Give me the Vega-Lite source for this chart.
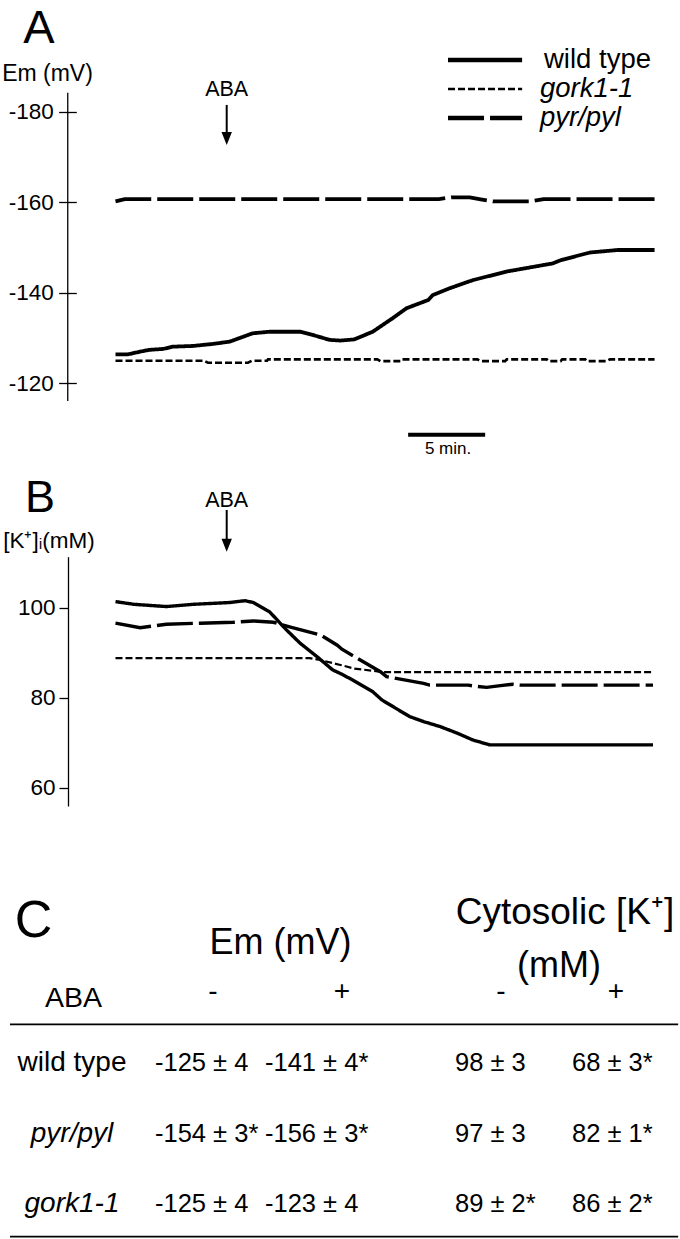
{
  "$schema": "https://vega.github.io/schema/vega-lite/v6.json",
  "width": 612,
  "height": 1239,
  "autosize": {"type": "none"},
  "padding": {"left": 68, "top": 0, "right": 0, "bottom": 0},
  "background": "white",
  "config": {
    "view": {"stroke": null},
    "font": "Liberation Sans",
    "axis": {"labelColor": "black", "titleColor": "black", "tickColor": "black", "domainColor": "black", "grid": false, "labelFont": "Liberation Sans", "titleFont": "Liberation Sans", "titleFontWeight": "normal"}
  },
  "datasets": {
    "emTrace": [
      {"genotype": "wild type", "t": 0, "em": -126.4},
      {"genotype": "wild type", "t": 0.8, "em": -126.4},
      {"genotype": "wild type", "t": 1.6, "em": -127.0},
      {"genotype": "wild type", "t": 2.2, "em": -127.4},
      {"genotype": "wild type", "t": 3.1, "em": -127.6},
      {"genotype": "wild type", "t": 3.7, "em": -128.1},
      {"genotype": "wild type", "t": 5.0, "em": -128.25},
      {"genotype": "wild type", "t": 6.3, "em": -128.7},
      {"genotype": "wild type", "t": 7.4, "em": -129.2},
      {"genotype": "wild type", "t": 8.3, "em": -130.3},
      {"genotype": "wild type", "t": 8.9, "em": -131.05},
      {"genotype": "wild type", "t": 10.0, "em": -131.4},
      {"genotype": "wild type", "t": 12.0, "em": -131.4},
      {"genotype": "wild type", "t": 12.8, "em": -130.7},
      {"genotype": "wild type", "t": 13.9, "em": -129.6},
      {"genotype": "wild type", "t": 14.6, "em": -129.45},
      {"genotype": "wild type", "t": 15.5, "em": -129.7},
      {"genotype": "wild type", "t": 16.7, "em": -131.4},
      {"genotype": "wild type", "t": 18.0, "em": -134.4},
      {"genotype": "wild type", "t": 18.9, "em": -136.6},
      {"genotype": "wild type", "t": 20.3, "em": -138.4},
      {"genotype": "wild type", "t": 20.6, "em": -139.5},
      {"genotype": "wild type", "t": 21.7, "em": -141.0},
      {"genotype": "wild type", "t": 23.2, "em": -142.8},
      {"genotype": "wild type", "t": 25.4, "em": -144.7},
      {"genotype": "wild type", "t": 28.4, "em": -146.5},
      {"genotype": "wild type", "t": 28.9, "em": -147.2},
      {"genotype": "wild type", "t": 30.8, "em": -148.9},
      {"genotype": "wild type", "t": 32.6, "em": -149.45},
      {"genotype": "wild type", "t": 35.0, "em": -149.45},
      {"genotype": "gork1-1", "t": 0, "em": -125.0},
      {"genotype": "gork1-1", "t": 5.75, "em": -125.0},
      {"genotype": "gork1-1", "t": 6.0, "em": -124.56},
      {"genotype": "gork1-1", "t": 8.6, "em": -124.56},
      {"genotype": "gork1-1", "t": 8.86, "em": -125.0},
      {"genotype": "gork1-1", "t": 9.84, "em": -125.0},
      {"genotype": "gork1-1", "t": 9.9, "em": -125.3},
      {"genotype": "gork1-1", "t": 17.0, "em": -125.3},
      {"genotype": "gork1-1", "t": 17.2, "em": -124.9},
      {"genotype": "gork1-1", "t": 18.5, "em": -124.9},
      {"genotype": "gork1-1", "t": 18.6, "em": -125.3},
      {"genotype": "gork1-1", "t": 23.5, "em": -125.3},
      {"genotype": "gork1-1", "t": 23.7, "em": -124.9},
      {"genotype": "gork1-1", "t": 25.3, "em": -124.9},
      {"genotype": "gork1-1", "t": 25.4, "em": -125.3},
      {"genotype": "gork1-1", "t": 28.0, "em": -125.3},
      {"genotype": "gork1-1", "t": 28.1, "em": -124.9},
      {"genotype": "gork1-1", "t": 28.9, "em": -124.9},
      {"genotype": "gork1-1", "t": 29.0, "em": -125.3},
      {"genotype": "gork1-1", "t": 30.5, "em": -125.3},
      {"genotype": "gork1-1", "t": 30.6, "em": -124.9},
      {"genotype": "gork1-1", "t": 31.9, "em": -124.9},
      {"genotype": "gork1-1", "t": 32.1, "em": -125.3},
      {"genotype": "gork1-1", "t": 35.0, "em": -125.3},
      {"genotype": "pyr/pyl", "t": 0, "em": -160.2},
      {"genotype": "pyr/pyl", "t": 0.6, "em": -160.7},
      {"genotype": "pyr/pyl", "t": 21.0, "em": -160.7},
      {"genotype": "pyr/pyl", "t": 21.8, "em": -161.1},
      {"genotype": "pyr/pyl", "t": 23.0, "em": -161.1},
      {"genotype": "pyr/pyl", "t": 23.8, "em": -160.6},
      {"genotype": "pyr/pyl", "t": 24.5, "em": -160.2},
      {"genotype": "pyr/pyl", "t": 27.0, "em": -160.2},
      {"genotype": "pyr/pyl", "t": 27.8, "em": -160.7},
      {"genotype": "pyr/pyl", "t": 35.0, "em": -160.7}
    ],
    "kTrace": [
      {"genotype": "wild type", "t": 0, "k": 101.4},
      {"genotype": "wild type", "t": 1.2, "k": 100.8},
      {"genotype": "wild type", "t": 3.3, "k": 100.3},
      {"genotype": "wild type", "t": 5.05, "k": 100.8},
      {"genotype": "wild type", "t": 7.4, "k": 101.2},
      {"genotype": "wild type", "t": 8.4, "k": 101.6},
      {"genotype": "wild type", "t": 8.95, "k": 101.2},
      {"genotype": "wild type", "t": 10.0, "k": 99.15},
      {"genotype": "wild type", "t": 11.1, "k": 95.1},
      {"genotype": "wild type", "t": 12.0, "k": 92.1},
      {"genotype": "wild type", "t": 13.1, "k": 89.1},
      {"genotype": "wild type", "t": 14.1, "k": 86.2},
      {"genotype": "wild type", "t": 14.6, "k": 85.4},
      {"genotype": "wild type", "t": 15.4, "k": 83.95},
      {"genotype": "wild type", "t": 16.7, "k": 81.35},
      {"genotype": "wild type", "t": 17.3, "k": 79.5},
      {"genotype": "wild type", "t": 19.1, "k": 75.8},
      {"genotype": "wild type", "t": 20.0, "k": 74.7},
      {"genotype": "wild type", "t": 21.1, "k": 73.55},
      {"genotype": "wild type", "t": 22.2, "k": 72.1},
      {"genotype": "wild type", "t": 23.2, "k": 70.6},
      {"genotype": "wild type", "t": 24.3, "k": 69.5},
      {"genotype": "wild type", "t": 34.9, "k": 69.5},
      {"genotype": "pyr/pyl", "t": 0, "k": 96.6},
      {"genotype": "pyr/pyl", "t": 1.6, "k": 95.6},
      {"genotype": "pyr/pyl", "t": 3.3, "k": 96.35},
      {"genotype": "pyr/pyl", "t": 5.5, "k": 96.6},
      {"genotype": "pyr/pyl", "t": 7.65, "k": 96.8},
      {"genotype": "pyr/pyl", "t": 8.95, "k": 97.1},
      {"genotype": "pyr/pyl", "t": 10.25, "k": 96.8},
      {"genotype": "pyr/pyl", "t": 11.3, "k": 95.8},
      {"genotype": "pyr/pyl", "t": 13.3, "k": 94.0},
      {"genotype": "pyr/pyl", "t": 14.4, "k": 91.7},
      {"genotype": "pyr/pyl", "t": 14.7, "k": 90.8},
      {"genotype": "pyr/pyl", "t": 17.2, "k": 85.8},
      {"genotype": "pyr/pyl", "t": 17.6, "k": 84.7},
      {"genotype": "pyr/pyl", "t": 20.0, "k": 83.2},
      {"genotype": "pyr/pyl", "t": 20.4, "k": 82.8},
      {"genotype": "pyr/pyl", "t": 22.9, "k": 82.8},
      {"genotype": "pyr/pyl", "t": 23.5, "k": 82.5},
      {"genotype": "pyr/pyl", "t": 24.1, "k": 82.3},
      {"genotype": "pyr/pyl", "t": 25.0, "k": 82.7},
      {"genotype": "pyr/pyl", "t": 25.8, "k": 83.0},
      {"genotype": "pyr/pyl", "t": 26.3, "k": 82.8},
      {"genotype": "pyr/pyl", "t": 34.9, "k": 82.8},
      {"genotype": "gork1-1", "t": 0, "k": 88.8},
      {"genotype": "gork1-1", "t": 12.6, "k": 88.8},
      {"genotype": "gork1-1", "t": 13.3, "k": 88.4},
      {"genotype": "gork1-1", "t": 14.6, "k": 87.3},
      {"genotype": "gork1-1", "t": 15.5, "k": 86.5},
      {"genotype": "gork1-1", "t": 17.4, "k": 85.7},
      {"genotype": "gork1-1", "t": 34.9, "k": 85.7}
    ],
    "table": [
      {"genotype": "wild type", "measure": "Em", "aba": "-", "value": "-125 ± 4"},
      {"genotype": "wild type", "measure": "Em", "aba": "+", "value": "-141 ± 4*"},
      {"genotype": "wild type", "measure": "K", "aba": "-", "value": "98 ± 3"},
      {"genotype": "wild type", "measure": "K", "aba": "+", "value": "68 ± 3*"},
      {"genotype": "pyr/pyl", "measure": "Em", "aba": "-", "value": "-154 ± 3*"},
      {"genotype": "pyr/pyl", "measure": "Em", "aba": "+", "value": "-156 ± 3*"},
      {"genotype": "pyr/pyl", "measure": "K", "aba": "-", "value": "97 ± 3"},
      {"genotype": "pyr/pyl", "measure": "K", "aba": "+", "value": "82 ± 1*"},
      {"genotype": "gork1-1", "measure": "Em", "aba": "-", "value": "-125 ± 4"},
      {"genotype": "gork1-1", "measure": "Em", "aba": "+", "value": "-123 ± 4"},
      {"genotype": "gork1-1", "measure": "K", "aba": "-", "value": "89 ± 2*"},
      {"genotype": "gork1-1", "measure": "K", "aba": "+", "value": "86 ± 2*"}
    ]
  },
  "resolve": {"scale": {"x": "independent", "y": "independent"}, "axis": {"x": "independent", "y": "independent"}},
  "layer": [
    {
      "data": {"name": "emTrace"},
      "mark": {"type": "line", "color": "black"},
      "encoding": {
        "x": {"field": "t", "type": "quantitative", "scale": {"domain": [-3.084, 36.651], "nice": false, "zero": false}, "axis": null},
        "y": {"field": "em", "type": "quantitative", "scale": {"domain": [-184.2, -116.1], "range": [92.7, 401], "nice": false, "zero": false},
          "axis": {"orient": "left", "offset": -8.3, "domain": false, "tickSize": 17.7, "tickWidth": 1.3, "values": [-180, -160, -140, -120], "labelFontSize": 22.5, "labelPadding": 5.3, "labelExpr": "replace(datum.label, '\u2212', '-')", "labelOverlap": false, "title": "Em (mV)", "titleAngle": 0, "titleX": -29.3, "titleY": 73, "titleAlign": "center", "titleBaseline": "middle", "titleFontSize": 23}},
        "strokeDash": {"field": "genotype", "type": "nominal", "scale": {"domain": ["wild type", "gork1-1", "pyr/pyl"], "range": [[1, 0], [7, 3], [36, 6]]}, "legend": null},
        "strokeWidth": {"condition": {"test": "datum.genotype === 'gork1-1'", "value": 2.6}, "value": 3.8}
      }
    },
    {
      "data": {"name": "kTrace"},
      "mark": {"type": "line", "color": "black"},
      "encoding": {
        "x": {"field": "t", "type": "quantitative", "scale": {"domain": [-3.084, 36.651], "nice": false, "zero": false}, "axis": null},
        "y": {"field": "k", "type": "quantitative", "scale": {"domain": [55.9, 111.4], "range": [806, 556.7], "nice": false, "zero": false},
          "axis": {"orient": "left", "offset": 0, "domain": true, "domainWidth": 1.3, "tickSize": 9, "tickWidth": 1.3, "values": [60, 80, 100], "labelFontSize": 22.5, "labelPadding": 4, "labelOverlap": false, "title": "[K⁺]ᵢ(mM)", "titleAngle": 0, "titleX": -19.5, "titleY": 540, "titleAlign": "center", "titleBaseline": "middle", "titleFontSize": 22.5}},
        "strokeDash": {"field": "genotype", "type": "nominal", "scale": {"domain": ["wild type", "gork1-1", "pyr/pyl"], "range": [[1, 0], [7, 3], [36, 6]]}, "legend": null},
        "strokeWidth": {"condition": {"test": "datum.genotype === 'gork1-1'", "value": 2.2}, "value": 3.4}
      }
    },
    {
      "data": {"values": [{}]},
      "encoding": {
        "x": {"datum": 7.22, "type": "quantitative", "scale": {"domain": [-3.084, 36.651], "nice": false, "zero": false}, "axis": null}
      },
      "layer": [
        {
          "mark": {"type": "rule", "color": "black", "strokeWidth": 1.3},
          "encoding": {
            "x": {"datum": -3.1, "type": "quantitative", "axis": null},
            "y": {"datum": -184.2, "type": "quantitative", "scale": {"domain": [-184.2, -116.1], "range": [92.7, 401], "nice": false, "zero": false}, "axis": null},
            "y2": {"datum": -116.1}
          }
        },
        {
          "mark": {"type": "rule", "color": "black", "strokeWidth": 2},
          "encoding": {
            "y": {"datum": -181.5, "type": "quantitative", "axis": null},
            "y2": {"datum": -175.3}
          }
        },
        {
          "mark": {"type": "point", "shape": "M-0.4,-1L0.4,-1L0,0Z", "size": 676, "filled": true, "color": "black", "opacity": 1, "strokeWidth": 0},
          "encoding": {
            "y": {"datum": -172.65, "type": "quantitative", "axis": null}
          }
        },
        {
          "mark": {"type": "text", "text": "ABA", "fontSize": 21.5, "align": "center", "baseline": "middle"},
          "encoding": {
            "y": {"datum": -184.7, "type": "quantitative", "axis": null}
          }
        },
        {
          "mark": {"type": "rule", "color": "black", "strokeWidth": 4},
          "encoding": {
            "x": {"datum": 19.0, "type": "quantitative", "axis": null},
            "x2": {"datum": 24.0},
            "y": {"datum": -108.65, "type": "quantitative", "axis": null}
          }
        },
        {
          "mark": {"type": "text", "text": "5 min.", "fontSize": 17, "align": "center", "baseline": "middle"},
          "encoding": {
            "x": {"datum": 21.59, "type": "quantitative", "axis": null},
            "y": {"datum": -105.52, "type": "quantitative", "axis": null}
          }
        },
        {
          "mark": {"type": "text", "text": "A", "fontSize": 47, "align": "center", "baseline": "alphabetic"},
          "encoding": {
            "x": {"datum": -4.968, "type": "quantitative", "axis": null},
            "y": {"datum": -195.18, "type": "quantitative", "axis": null}
          }
        }
      ]
    },
    {
      "data": {"values": [{}]},
      "encoding": {
        "x": {"datum": 7.22, "type": "quantitative", "scale": {"domain": [-3.084, 36.651], "nice": false, "zero": false}, "axis": null}
      },
      "layer": [
        {
          "mark": {"type": "rule", "color": "black", "strokeWidth": 2},
          "encoding": {
            "y": {"datum": 121.8, "type": "quantitative", "scale": {"domain": [55.9, 111.4], "range": [806, 556.7], "nice": false, "zero": false}, "axis": null},
            "y2": {"datum": 115.2}
          }
        },
        {
          "mark": {"type": "point", "shape": "M-0.4,-1L0.4,-1L0,0Z", "size": 676, "filled": true, "color": "black", "opacity": 1, "strokeWidth": 0},
          "encoding": {
            "y": {"datum": 112.51, "type": "quantitative", "axis": null}
          }
        },
        {
          "mark": {"type": "text", "text": "ABA", "fontSize": 21.5, "align": "center", "baseline": "middle"},
          "encoding": {
            "y": {"datum": 123.75, "type": "quantitative", "axis": null}
          }
        },
        {
          "mark": {"type": "text", "text": "B", "fontSize": 45, "align": "center", "baseline": "alphabetic"},
          "encoding": {
            "x": {"datum": -4.903, "type": "quantitative", "axis": null},
            "y": {"datum": 121.35, "type": "quantitative", "axis": null}
          }
        }
      ]
    },
    {
      "data": {"values": [{"genotype": "wild type"}, {"genotype": "gork1-1"}, {"genotype": "pyr/pyl"}]},
      "encoding": {
        "y": {"field": "genotype", "type": "nominal", "scale": {"type": "point", "domain": ["wild type", "gork1-1", "pyr/pyl"], "range": [60, 118], "padding": 0}, "axis": null}
      },
      "layer": [
        {
          "mark": {"type": "rule", "color": "black"},
          "encoding": {
            "x": {"datum": 21.59, "type": "quantitative", "scale": {"domain": [-3.084, 36.651], "nice": false, "zero": false}, "axis": null},
            "x2": {"datum": 26.4},
            "strokeDash": {"field": "genotype", "type": "nominal", "scale": {"domain": ["wild type", "gork1-1", "pyr/pyl"], "range": [[1, 0], [7, 3], [36, 6]]}, "legend": null},
            "strokeWidth": {"condition": {"test": "datum.genotype === 'gork1-1'", "value": 2.6}, "value": 4.5}
          }
        },
        {
          "transform": [{"filter": "datum.genotype === 'wild type'"}],
          "mark": {"type": "text", "align": "left", "baseline": "middle", "fontSize": 27.5},
          "encoding": {
            "x": {"datum": 27.82, "type": "quantitative", "axis": null},
            "text": {"field": "genotype"}
          }
        },
        {
          "transform": [{"filter": "datum.genotype !== 'wild type'"}],
          "mark": {"type": "text", "align": "left", "baseline": "middle", "fontSize": 27.5, "fontStyle": "italic"},
          "encoding": {
            "x": {"datum": 27.56, "type": "quantitative", "axis": null},
            "text": {"field": "genotype"}
          }
        }
      ]
    },
    {
      "data": {"name": "table"},
      "transform": [{"filter": "datum.aba === '-' && datum.measure === 'Em' && (datum.genotype === 'wild type' || datum.genotype === 'gork1-1')"}],
      "encoding": {
        "y": {"field": "genotype", "type": "nominal", "bandPosition": 0, "scale": {"type": "band", "domain": ["wild type", "pyr/pyl", "gork1-1"], "range": [1024.3, 1236.7], "paddingInner": 0, "paddingOuter": 0}, "axis": null},
        "x": {"datum": -6.85, "type": "quantitative", "scale": {"domain": [-3.084, 36.651], "nice": false, "zero": false}, "axis": null},
        "x2": {"datum": 36.53}
      },
      "layer": [
        {
          "transform": [{"filter": "datum.genotype === 'wild type'"}],
          "mark": {"type": "rule", "color": "black", "strokeWidth": 1.8}
        },
        {
          "transform": [{"filter": "datum.genotype === 'gork1-1'"}],
          "mark": {"type": "rule", "color": "black", "strokeWidth": 1.8},
          "encoding": {
            "y": {"field": "genotype", "type": "nominal", "bandPosition": 1, "axis": null}
          }
        }
      ]
    },
    {
      "data": {"name": "table"},
      "encoding": {
        "y": {"field": "genotype", "type": "nominal", "bandPosition": 0.5, "scale": {"type": "band", "domain": ["wild type", "pyr/pyl", "gork1-1"], "range": [1024.3, 1236.7], "paddingInner": 0, "paddingOuter": 0}, "axis": null},
        "x": {"field": "measure", "type": "nominal", "scale": {"type": "point", "domain": ["Em", "K"], "range": [87, 387], "padding": 0}, "axis": null}
      },
      "layer": [
        {
          "transform": [{"filter": "datum.aba === '-'"}],
          "mark": {"type": "text", "align": "left", "baseline": "middle", "fontSize": 25.5, "dy": 3},
          "encoding": {"text": {"field": "value"}}
        },
        {
          "transform": [{"filter": "datum.aba === '+' && datum.measure === 'Em'"}],
          "mark": {"type": "text", "align": "left", "baseline": "middle", "fontSize": 25.5, "dy": 3, "dx": 110},
          "encoding": {"text": {"field": "value"}}
        },
        {
          "transform": [{"filter": "datum.aba === '+' && datum.measure === 'K'"}],
          "mark": {"type": "text", "align": "left", "baseline": "middle", "fontSize": 25.5, "dy": 3, "dx": 117},
          "encoding": {"text": {"field": "value"}}
        },
        {
          "transform": [{"filter": "datum.aba === '-' && datum.measure === 'Em' && datum.genotype === 'wild type'"}],
          "mark": {"type": "text", "align": "center", "baseline": "middle", "fontSize": 28, "dy": 3, "dx": -83},
          "encoding": {"text": {"field": "genotype"}}
        },
        {
          "transform": [{"filter": "datum.aba === '-' && datum.measure === 'Em' && datum.genotype !== 'wild type'"}],
          "mark": {"type": "text", "align": "center", "baseline": "middle", "fontSize": 28, "fontStyle": "italic", "dy": 3, "dx": -83},
          "encoding": {"text": {"field": "genotype"}}
        },
        {
          "transform": [{"filter": "datum.aba === '-' && datum.measure === 'Em' && datum.genotype === 'wild type'"}],
          "mark": {"type": "text", "text": "C", "align": "center", "baseline": "alphabetic", "fontSize": 52, "dx": -121.5, "dy": -122.7}
        },
        {
          "transform": [{"filter": "datum.aba === '-' && datum.measure === 'Em' && datum.genotype === 'wild type'"}],
          "mark": {"type": "text", "text": "Em (mV)", "align": "center", "baseline": "middle", "fontSize": 36, "dx": 125.5, "dy": -116.9}
        },
        {
          "transform": [{"filter": "datum.aba === '-' && datum.measure === 'Em' && datum.genotype === 'wild type'"}],
          "mark": {"type": "text", "text": "ABA", "align": "center", "baseline": "middle", "fontSize": 28.5, "dx": -81.5, "dy": -61.5}
        },
        {
          "transform": [{"filter": "datum.aba === '-' && datum.measure === 'Em' && datum.genotype === 'wild type'"}],
          "mark": {"type": "text", "align": "center", "baseline": "middle", "fontSize": 28, "dx": 58, "dy": -68},
          "encoding": {"text": {"field": "aba"}}
        },
        {
          "transform": [{"filter": "datum.aba === '+' && datum.measure === 'Em' && datum.genotype === 'wild type'"}],
          "mark": {"type": "text", "align": "center", "baseline": "middle", "fontSize": 28, "dx": 187, "dy": -68},
          "encoding": {"text": {"field": "aba"}}
        },
        {
          "transform": [{"filter": "datum.aba === '-' && datum.measure === 'K' && datum.genotype === 'wild type'"}],
          "mark": {"type": "text", "align": "center", "baseline": "middle", "fontSize": 28, "dx": 46, "dy": -68},
          "encoding": {"text": {"field": "aba"}}
        },
        {
          "transform": [{"filter": "datum.aba === '+' && datum.measure === 'K' && datum.genotype === 'wild type'"}],
          "mark": {"type": "text", "align": "center", "baseline": "middle", "fontSize": 28, "dx": 161, "dy": -68},
          "encoding": {"text": {"field": "aba"}}
        },
        {
          "transform": [{"filter": "datum.aba === '-' && datum.measure === 'K' && datum.genotype === 'wild type'"}],
          "mark": {"type": "text", "text": "Cytosolic [K⁺]", "align": "center", "baseline": "middle", "fontSize": 37, "dx": 110, "dy": -147.2}
        },
        {
          "transform": [{"filter": "datum.aba === '-' && datum.measure === 'K' && datum.genotype === 'wild type'"}],
          "mark": {"type": "text", "text": "(mM)", "align": "center", "baseline": "middle", "fontSize": 36, "dx": 104, "dy": -94.2}
        }
      ]
    }
  ]
}
